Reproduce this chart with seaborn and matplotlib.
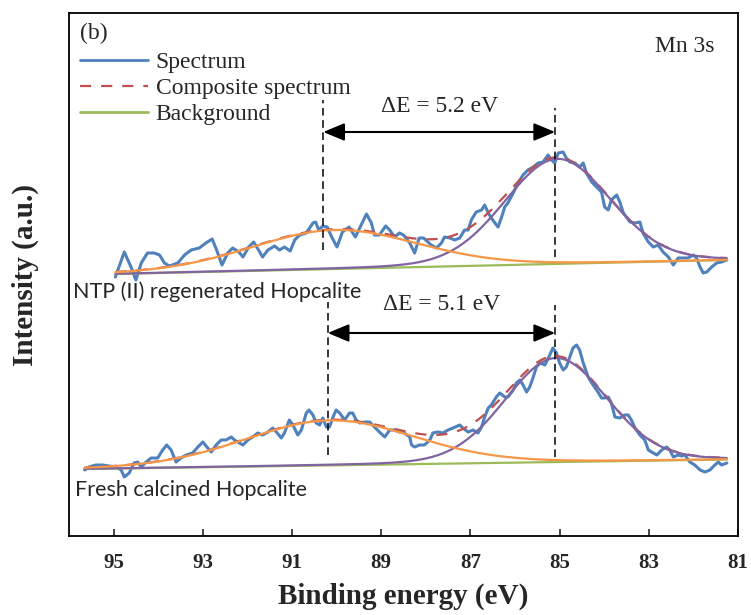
import numpy as np
import pandas as pd
import matplotlib
matplotlib.use("Agg")
import matplotlib.pyplot as plt
from matplotlib.lines import Line2D
import seaborn as sns

# ---------------------------------------------------------------------------
# Mn 3s spectra (binding energy in eV, intensity in a.u., spectra offset)
# ---------------------------------------------------------------------------
be_regen = [
    94.96, 94.76, 94.61, 94.50, 94.38, 94.24, 94.09, 93.97, 93.86, 93.75,
    93.56, 93.41, 93.26, 93.08, 92.93, 92.79, 92.69, 92.57, 92.44, 92.33,
    92.19, 92.10, 91.97, 91.86, 91.75, 91.66, 91.54, 91.39, 91.28, 91.17,
    91.04, 90.94, 90.83, 90.68, 90.53, 90.47, 90.40, 90.31, 90.21, 90.11,
    89.99, 89.87, 89.72, 89.58, 89.46, 89.33, 89.22, 89.15, 89.04, 88.90,
    88.81, 88.70, 88.59, 88.50, 88.36, 88.25, 88.15, 88.05, 87.88, 87.76,
    87.65, 87.58, 87.46, 87.35, 87.24, 87.13, 87.05, 86.98, 86.87, 86.75,
    86.68, 86.60, 86.53, 86.45, 86.38, 86.30, 86.23, 86.16, 86.04, 85.93,
    85.82, 85.71, 85.59, 85.48, 85.37, 85.26, 85.18, 85.11, 85.03, 84.92,
    84.85, 84.77, 84.66, 84.55, 84.47, 84.40, 84.28, 84.17, 84.06, 83.99,
    83.91, 83.84, 83.72, 83.65, 83.57, 83.42, 83.31, 83.20, 83.13, 83.01,
    82.90, 82.79, 82.68, 82.56, 82.45, 82.34, 82.23, 82.12, 82.00, 81.93,
    81.85, 81.78, 81.70, 81.59, 81.48, 81.37, 81.25,
]
int_regen = [
    259, 284, 269, 256, 273, 283, 283, 281, 273, 270,
    273, 281, 286, 288, 293, 297, 286, 271, 283, 288,
    284, 279, 289, 294, 286, 279, 286, 290, 286, 289,
    285, 296, 301, 303, 313, 314, 306, 310, 309, 299,
    289, 304, 309, 299, 310, 322, 313, 301, 301, 310,
    306, 299, 303, 301, 293, 283, 298, 298, 291, 288,
    293, 299, 298, 296, 298, 306, 306, 316, 324, 326,
    331, 323, 318, 313, 309, 319, 329, 333, 343, 353,
    361, 366, 369, 373, 374, 381, 376, 373, 383, 384,
    378, 374, 373, 369, 373, 363, 354, 349, 344, 329,
    326, 336, 341, 334, 323, 314, 313, 314, 303, 294,
    289, 291, 284, 279, 271, 278, 278, 278, 281, 278,
    269, 263, 264, 269, 273, 274, 276,
]

be_fresh = [
    95.65, 95.55, 95.40, 95.25, 95.10, 94.95, 94.83, 94.76, 94.65, 94.54,
    94.46, 94.38, 94.27, 94.16, 94.01, 93.90, 93.81, 93.71, 93.60, 93.49,
    93.37, 93.23, 93.11, 93.00, 92.89, 92.81, 92.70, 92.59, 92.48, 92.36,
    92.29, 92.18, 92.10, 91.99, 91.88, 91.77, 91.66, 91.54, 91.43, 91.35,
    91.24, 91.17, 91.06, 90.98, 90.87, 90.79, 90.68, 90.62, 90.53, 90.46,
    90.38, 90.31, 90.23, 90.16, 90.08, 90.01, 89.93, 89.82, 89.71, 89.64,
    89.56, 89.48, 89.37, 89.26, 89.15, 89.04, 88.92, 88.81, 88.70, 88.59,
    88.48, 88.36, 88.32, 88.25, 88.14, 88.03, 87.91, 87.84, 87.73, 87.62,
    87.50, 87.39, 87.24, 87.17, 87.05, 86.94, 86.83, 86.75, 86.68, 86.60,
    86.53, 86.42, 86.34, 86.23, 86.16, 86.04, 85.97, 85.89, 85.82, 85.74,
    85.67, 85.59, 85.52, 85.44, 85.33, 85.22, 85.15, 85.07, 85.00, 84.92,
    84.85, 84.77, 84.70, 84.62, 84.55, 84.47, 84.36, 84.25, 84.14, 84.06,
    83.99, 83.91, 83.84, 83.76, 83.65, 83.54, 83.46, 83.39, 83.31, 83.20,
    83.09, 83.01, 82.90, 82.82, 82.71, 82.60, 82.53, 82.45, 82.34, 82.26,
    82.19, 82.08, 81.97, 81.85, 81.74, 81.63, 81.52, 81.44, 81.37, 81.25,
]
int_fresh = [
    66, 69, 71, 71, 70, 69, 66, 59, 63, 73,
    74, 69, 74, 78, 78, 86, 91, 86, 74, 78,
    81, 83, 89, 94, 88, 84, 91, 96, 96, 99,
    96, 93, 91, 96, 99, 103, 101, 104, 108, 104,
    98, 103, 116, 111, 101, 106, 123, 126, 121, 113,
    111, 118, 109, 109, 119, 126, 123, 116, 123, 123,
    116, 113, 114, 114, 109, 104, 99, 106, 106, 104,
    103, 99, 91, 89, 91, 91, 96, 103, 104, 103,
    106, 108, 111, 108, 104, 106, 103, 109, 119, 128,
    131, 139, 143, 139, 139, 146, 153, 156, 151, 144,
    149, 159, 169, 173, 171, 181, 188, 183, 173, 166,
    169, 179, 188, 191, 186, 173, 159, 151, 144, 138,
    138, 139, 133, 119, 118, 121, 121, 116, 108, 101,
    96, 86, 83, 81, 86, 89, 86, 79, 81, 80,
    81, 74, 71, 66, 64, 66, 71, 74, 71, 73,
]

# Fit results: linear background (intensity at high / low BE end) and
# Gaussian-Lorentzian components given as (centre eV, height, FWHM eV)
bg_regen = [262, 276]
peak_hi_regen = [90.05, 39, 4.4]
peak_lo_regen = [85.05, 105, 2.8]

bg_fresh = [67, 76.5]
peak_hi_fresh = [90.15, 45, 4.5]
peak_lo_fresh = [85.08, 104, 2.7]
GL_MIX = 0.1

# Multiplet splitting of the Mn 3s line
delta_e = [5.2, 5.1]
split_ref_be = [85.1, 85.1]

sample_names = ["NTP (II) regenerated Hopcalite", "Fresh calcined Hopcalite"]
xticks = [95, 93, 91, 89, 87, 85, 83, 81]

BLUE, RED, GREEN = "#4F81BD", "#C0504D", "#9BBB59"
PURPLE, ORANGE = "#8064A2", "#F79646"


def gl_peak(e, centre, height, fwhm, mix=GL_MIX):
    u = 4.0 * (e - centre) ** 2 / fwhm ** 2
    return height * ((1 - mix) * np.exp(-np.log(2) * u) + mix / (1.0 + u))


def fit_curves(be, bg, hi, lo):
    grid = np.linspace(be[0], be[-1], 500)
    background = bg[0] + (bg[1] - bg[0]) * (grid - be[0]) / (be[-1] - be[0])
    comp_hi = background + gl_peak(grid, *hi)
    comp_lo = background + gl_peak(grid, *lo)
    total = background + gl_peak(grid, *hi) + gl_peak(grid, *lo)
    return pd.DataFrame({"be": grid, "background": background,
                         "hi": comp_hi, "lo": comp_lo, "total": total})


sns.set_style("white")
plt.rcParams["font.family"] = ["Liberation Serif", "DejaVu Serif"]
plt.rcParams["axes.linewidth"] = 1.3

fig = plt.figure(figsize=(7.51, 6.15), dpi=100)
ax = fig.add_axes([69 / 751, 79 / 615, 669 / 751, 523 / 615])

spectra = [
    (be_regen, int_regen, bg_regen, peak_hi_regen, peak_lo_regen),
    (be_fresh, int_fresh, bg_fresh, peak_hi_fresh, peak_lo_fresh),
]

for be, inten, bg, hi, lo in spectra:
    df = pd.DataFrame({"be": be, "intensity": inten})
    fit = fit_curves(be, bg, hi, lo)
    sns.lineplot(data=df, x="be", y="intensity", ax=ax, color=BLUE, lw=2.2,
                 sort=False, estimator=None, zorder=2,
                 solid_joinstyle="round", solid_capstyle="round")
    sns.lineplot(data=fit, x="be", y="total", ax=ax, color=RED, lw=1.6,
                 sort=False, estimator=None, zorder=3,
                 linestyle=(0, (5, 4.5)))
    sns.lineplot(data=fit, x="be", y="background", ax=ax, color=GREEN,
                 lw=1.6, sort=False, estimator=None, zorder=4)
    sns.lineplot(data=fit, x="be", y="lo", ax=ax, color=PURPLE, lw=1.6,
                 sort=False, estimator=None, zorder=5)
    sns.lineplot(data=fit, x="be", y="hi", ax=ax, color=ORANGE, lw=1.6,
                 sort=False, estimator=None, zorder=6)

# Multiplet splitting markers
arrow_y = [404, 203]
text_y = [429, 231]
vline_lo = [[279, 286], [79, 81]]
vline_hi = [[428, 436], [231, 234]]
for i in range(2):
    right = split_ref_be[i]
    left = right + delta_e[i]
    ax.vlines([right, left], [vline_lo[i][0], vline_lo[i][1]],
              [vline_hi[i][0], vline_hi[i][1]], colors="black", lw=1.1,
              linestyles=[(0, (5, 3))], zorder=7)
    ax.annotate("", xy=(right, arrow_y[i]), xytext=(left, arrow_y[i]),
                arrowprops=dict(arrowstyle="<|-|>,head_length=0.65,head_width=0.27",
                                color="black", lw=1.5, mutation_scale=20,
                                shrinkA=0, shrinkB=0), zorder=8)
    ax.text((left + right) / 2, text_y[i], f"\u0394E = {delta_e[i]} eV",
            ha="center", va="center", fontsize=17)

# Sample names
ax.text(0.006, 0.4665, sample_names[0], transform=ax.transAxes,
        ha="left", va="center", fontsize=15.5, family=["Lato", "DejaVu Sans"])
ax.text(0.009, 0.088, sample_names[1], transform=ax.transAxes,
        ha="left", va="center", fontsize=15.5, family=["Lato", "DejaVu Sans"])

ax.text(0.0164, 0.96, "(b)", transform=ax.transAxes, ha="left",
        va="center", fontsize=17)
ax.text(0.9656, 0.935, "Mn 3s", transform=ax.transAxes, ha="right",
        va="center", fontsize=17)

handles = [
    Line2D([], [], color=BLUE, lw=2.0),
    Line2D([], [], color=RED, lw=1.6, linestyle=(0, (5, 4.5))),
    Line2D([], [], color=GREEN, lw=2.0),
]
ax.legend(handles, ["Spectrum", "Composite spectrum", "Background"],
          loc="upper left", bbox_to_anchor=(0.0164, 0.9266), frameon=False,
          fontsize=17, handlelength=2.9, handletextpad=0.3,
          labelspacing=0.2, borderpad=0, borderaxespad=0)

ax.set_xlim(96, 81)
ax.set_ylim(0, 523)
ax.set_xticks(xticks)
ax.set_xticklabels([str(t) for t in xticks], fontsize=15, fontweight="bold")
ax.set_yticks([])
ax.tick_params(axis="x", direction="in", length=5, width=1.2, pad=12,
               bottom=True)
for side in ["left", "right", "top", "bottom"]:
    ax.spines[side].set_visible(True)
    ax.spines[side].set_color("black")

ax.set_xlabel("Binding energy (eV)", fontsize=21, fontweight="bold")
ax.set_ylabel("Intensity (a.u.)", fontsize=21, fontweight="bold")
ax.xaxis.set_label_coords(0.5, -0.09)
ax.yaxis.set_label_coords(-0.045, 0.5)

fig.savefig("out.png", dpi=100)
